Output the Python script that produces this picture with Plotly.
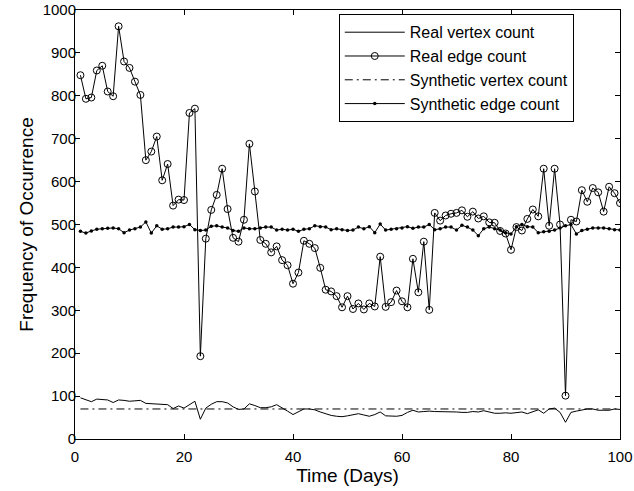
import plotly.graph_objects as go

days = list(range(1, 101))

real_vertex = [96, 92, 87, 93, 92, 91, 85, 91, 90, 88,
               89, 90, 83, 82, 82, 81, 80, 71, 77, 72,
               80, 88, 46, 72, 81, 87, 87, 84, 75, 69,
               70, 82, 78, 73, 73, 75, 80, 73, 65, 57,
               63, 70, 70, 68, 63, 59, 55, 53, 52, 54,
               57, 59, 56, 53, 57, 63, 54, 54, 53, 55,
               62, 67, 63, 64, 65, 64, 64, 63, 63, 63,
               62, 62, 64, 63, 66, 63, 60, 60, 61, 60,
               61, 63, 59, 63, 68, 60, 70, 72, 62, 39,
               62, 65, 67, 70, 70, 67, 67, 67, 70, 69]

real_edge = [848, 793, 796, 859, 870, 810, 799, 962, 880, 865,
             833, 802, 650, 670, 705, 603, 641, 544, 558, 557,
             760, 770, 193, 467, 534, 569, 630, 536, 469, 460,
             511, 688, 577, 464, 455, 435, 449, 417, 405, 362,
             388, 462, 455, 445, 399, 348, 344, 333, 307, 333,
             303, 316, 302, 316, 309, 425, 308, 319, 346, 321,
             307, 420, 342, 460, 301, 527, 509, 521, 525, 527,
             533, 518, 530, 514, 519, 505, 504, 485, 479, 441,
             494, 486, 513, 535, 519, 630, 497, 630, 500, 101,
             511, 507, 580, 553, 585, 575, 530, 588, 573, 550]

synthetic_vertex = [70, 70, 70, 70, 70, 70, 70, 70, 70, 70,
                    70, 70, 70, 70, 70, 70, 70, 70, 70, 70,
                    70, 70, 70, 70, 70, 70, 70, 70, 70, 70,
                    70, 70, 70, 70, 70, 70, 70, 70, 70, 70,
                    70, 70, 70, 70, 70, 70, 70, 70, 70, 70,
                    70, 70, 70, 70, 70, 70, 70, 70, 70, 70,
                    70, 70, 70, 70, 70, 70, 70, 70, 70, 70,
                    70, 70, 70, 70, 70, 70, 70, 70, 70, 70,
                    70, 70, 70, 70, 70, 70, 70, 70, 70, 70,
                    70, 70, 70, 70, 70, 70, 70, 70, 70, 70]

synthetic_edge = [484, 480, 485, 489, 490, 491, 492, 490, 481, 487,
                  490, 494, 506, 480, 497, 489, 490, 494, 494, 495,
                  500, 488, 486, 487, 496, 497, 494, 492, 486, 484,
                  492, 490, 490, 492, 494, 494, 487, 489, 487, 489,
                  484, 489, 490, 497, 495, 494, 488, 490, 488, 486,
                  487, 494, 490, 495, 481, 501, 487, 489, 490, 492,
                  495, 491, 494, 494, 500, 488, 490, 494, 494, 487,
                  498, 494, 487, 474, 490, 494, 490, 487, 481, 478,
                  495, 500, 495, 494, 481, 483, 484, 487, 492, 497,
                  500, 478, 486, 489, 492, 492, 492, 490, 488, 487]

x_ticks = [0, 20, 40, 60, 80, 100]
y_ticks = [0, 100, 200, 300, 400, 500, 600, 700, 800, 900, 1000]

fig = go.Figure()
fig.add_trace(go.Scatter(x=days, y=real_vertex, mode="lines", name="Real vertex count",
                         line=dict(color="black", width=1)))
fig.add_trace(go.Scatter(x=days, y=real_edge, mode="lines+markers", name="Real edge count",
                         line=dict(color="black", width=1),
                         marker=dict(symbol="circle-open", size=7, color="black",
                                     line=dict(width=1, color="black"))))
fig.add_trace(go.Scatter(x=days, y=synthetic_vertex, mode="lines", name="Synthetic vertex count",
                         line=dict(color="black", width=1, dash="8px,4px,2px,4px")))
fig.add_trace(go.Scatter(x=days, y=synthetic_edge, mode="lines+markers", name="Synthetic edge count",
                         line=dict(color="black", width=1),
                         marker=dict(symbol="circle", size=3.5, color="black")))

axis_common = dict(showgrid=False, zeroline=False, showline=True, linecolor="black",
                   linewidth=1, mirror="allticks", ticks="inside", ticklen=5,
                   tickcolor="black", tickfont=dict(size=15, color="black"),
                   automargin=False)

fig.update_layout(
    width=634, height=491,
    margin=dict(l=75, r=14, t=10, b=52),
    paper_bgcolor="white", plot_bgcolor="white",
    font=dict(family="Liberation Sans, Arial, sans-serif", size=15, color="black"),
    xaxis=dict(range=[0, 100], tickvals=x_ticks, ticklabelstandoff=4,
               title=dict(text="Time (Days)", font=dict(size=19), standoff=0),
               **axis_common),
    yaxis=dict(range=[0, 1000], tickvals=y_ticks, ticklabelstandoff=-5,
               title=dict(text="Frequency of Occurrence", font=dict(size=19), standoff=3),
               **axis_common),
    legend=dict(x=0.484, y=0.99, xanchor="left", yanchor="top",
                bgcolor="white", bordercolor="black", borderwidth=1,
                font=dict(size=16), tracegroupgap=0, itemwidth=60),
    showlegend=True,
)

fig.write_html("out.html", config={"displayModeBar": False},
               post_script="document.body.style.margin='0px';")
